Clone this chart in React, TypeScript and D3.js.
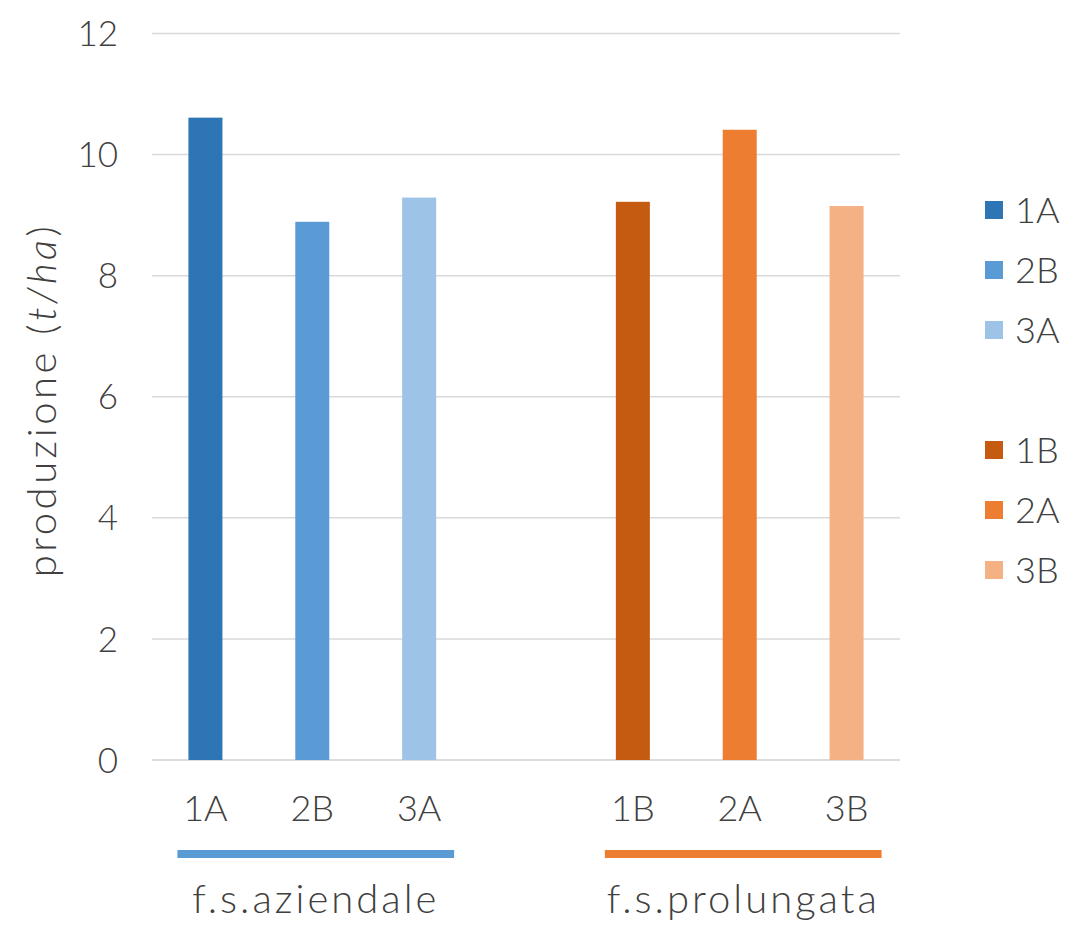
import React from "react";
import * as d3 from "d3";

// Varieties, in plotting order; the empty slot separates the two groups
const categories = ["1A", "2B", "3A", "", "1B", "2A", "3B"];
const values = [10.61, 8.89, 9.29, null, 9.22, 10.41, 9.15];
const colors = ["#2E75B6", "#5B9BD5", "#9DC3E6", "none", "#C55A11", "#ED7D31", "#F4B183"];

const yTicks = [0, 2, 4, 6, 8, 10, 12];

const groups = [
  { label: "f.s.aziendale", first: "1A", last: "3A", color: "#5B9BD5" },
  { label: "f.s.prolungata", first: "1B", last: "3B", color: "#ED7D31" },
];

const legendItems = [
  { label: "1A", color: "#2E75B6" },
  { label: "2B", color: "#5B9BD5" },
  { label: "3A", color: "#9DC3E6" },
  null,
  { label: "1B", color: "#C55A11" },
  { label: "2A", color: "#ED7D31" },
  { label: "3B", color: "#F4B183" },
];

const W = 1077;
const H = 930;
const FONT = "Lato, 'DejaVu Sans', sans-serif";
const TEXT = "#404040";

export default function App() {
  const key = (c: string, i: number) => c || `gap${i}`;
  const x = d3.scaleBand<string>().domain(categories.map(key)).range([152, 900]);
  const y = d3.scaleLinear().domain([0, 12]).range([760, 33.5]);
  const bw = 34;
  const fs = 36;
  const textProps = { fontFamily: FONT, fill: TEXT, fontWeight: 300 };

  return (
    <svg width={W} height={H} style={{ position: "absolute", left: 0, top: 0, background: "#fff" }}>
      {/* gridlines */}
      {yTicks.map((t) => (
        <line key={t} x1={152} x2={900} y1={y(t)} y2={y(t)} stroke={t === 0 ? "#D0D0D0" : "#D9D9D9"} strokeWidth={1.5} />
      ))}
      {/* tick labels */}
      {yTicks.map((t) => (
        <text key={"l" + t} x={118} y={y(t)} dy="0.36em" textAnchor="end" fontSize={35} {...textProps}>
          {t}
        </text>
      ))}
      {/* axis title */}
      <text
        transform={`translate(56,400) rotate(-90)`}
        textAnchor="middle"
        fontSize={40}
        letterSpacing={3.5}
        {...textProps}
      >
        produzione (<tspan fontStyle="italic">t/ha</tspan>)
      </text>
      {/* bars */}
      {categories.map((c, i) =>
        values[i] == null ? null : (
          <rect
            key={key(c, i)}
            x={x(key(c, i))! + x.bandwidth() / 2 - bw / 2}
            y={y(values[i] as number)}
            width={bw}
            height={y(0) - y(values[i] as number)}
            fill={colors[i]}
          />
        )
      )}
      {/* category labels */}
      {categories.map((c, i) =>
        c ? (
          <text
            key={"c" + i}
            x={x(key(c, i))! + x.bandwidth() / 2}
            y={821}
            textAnchor="middle"
            fontSize={fs}
            {...textProps}
          >
            {c}
          </text>
        ) : null
      )}
      {/* group bars and labels */}
      {groups.map((g) => {
        const x0 = x(g.first)! + x.bandwidth() / 2 - 28;
        const x1 = x(g.last)! + x.bandwidth() / 2 + 35;
        return (
          <g key={g.label}>
            <rect x={x0} y={850} width={x1 - x0} height={8} fill={g.color} />
            <text x={(x0 + x1) / 2} y={913} textAnchor="middle" fontSize={40} letterSpacing={3} {...textProps}>
              {g.label}
            </text>
          </g>
        );
      })}
      {/* legend */}
      {legendItems.map((it, i) =>
        it ? (
          <g key={it.label} transform={`translate(985,${210 + i * 60})`}>
            <rect x={0} y={-9} width={18} height={18} fill={it.color} />
            <text x={30} y={0} dy="0.36em" fontSize={fs} {...textProps}>
              {it.label}
            </text>
          </g>
        ) : null
      )}
    </svg>
  );
}
